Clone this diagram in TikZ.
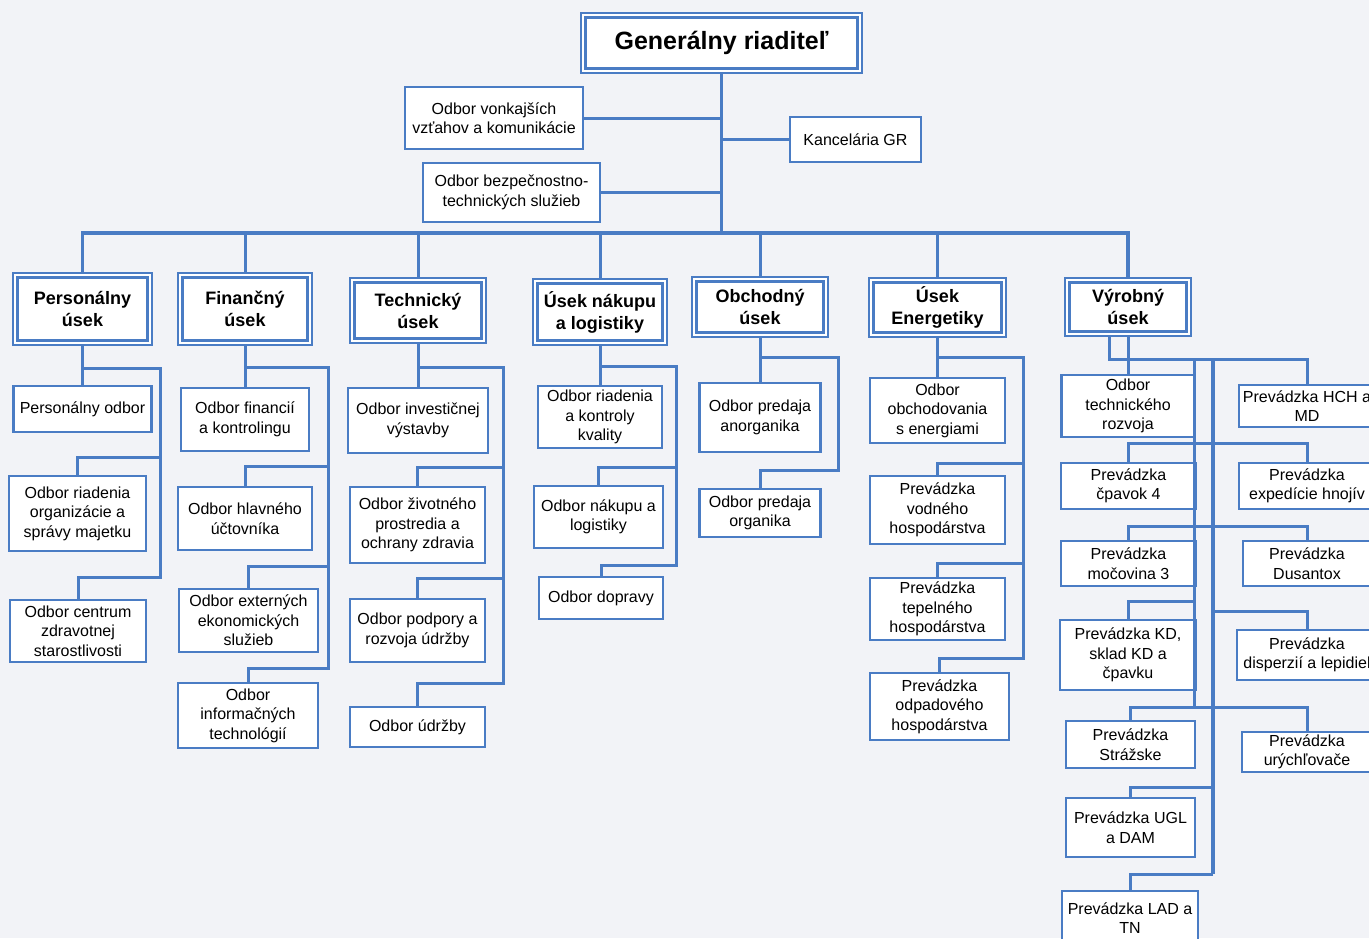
\documentclass[tikz,border=0pt]{standalone}
\usepackage{fontspec}
\setmainfont{Liberation Sans}
\definecolor{bl}{HTML}{4A7CC4}
\definecolor{bg}{HTML}{F2F3F7}
\begin{document}
\begin{tikzpicture}[x=1pt,y=-1pt,
  sz/.style 2 args={minimum width=#1pt, minimum height=#2pt},
  box/.style={draw=bl, line width=2.2pt, fill=white, inner sep=0pt, align=center, font=\fontsize{16}{19.5}\selectfont},
  dbl/.style={draw=bl, line width=1.2pt, fill=white, inner sep=0pt, align=center,
    font=\bfseries\fontsize{18}{22}\selectfont,
    path picture={\draw[bl, line width=2.6pt] ([shift={(4.5pt,-4.5pt)}]path picture bounding box.north west) rectangle ([shift={(-4.5pt,4.5pt)}]path picture bounding box.south east);}},
  conn/.style={draw=bl, line width=3pt},
  rail/.style={draw=bl, line width=3.6pt},
]
\fill[bg] (0,0) rectangle (1369,938);
\useasboundingbox (0,0) rectangle (1369,938);

% top
\node[dbl, sz={281}{60}, font=\bfseries\fontsize{25}{30}\selectfont] (gr) at (721.5,43) {Generálny riaditeľ};
\node[box, sz={131}{45}] (kan) at (855.5,139.5) {Kancelária GR};
\node[box, sz={178}{62}] (von) at (494,118) {Odbor vonkajších\\vzťahov a komunikácie};
\node[box, sz={177}{59}] (bez) at (511.5,192.5) {Odbor bezpečnostno-\\technických služieb};

% divisions
\node[dbl, sz={139}{72}] (pers) at (82.5,309) {Personálny\\úsek};
\node[dbl, sz={134}{72}] (fin) at (245,309) {Finančný\\úsek};
\node[dbl, sz={136}{65}] (tech) at (418,310.5) {Technický\\úsek};
\node[dbl, sz={134}{66}] (nak) at (600,312) {Úsek nákupu\\a logistiky};
\node[dbl, sz={136}{60}] (obch) at (760,307) {Obchodný\\úsek};
\node[dbl, sz={137}{59}] (ener) at (937.5,307.5) {Úsek\\Energetiky};
\node[dbl, sz={126}{58}] (vyr) at (1128,307) {Výrobný\\úsek};

\coordinate (bus) at (721.5,233);
\draw[rail] (gr.south) -- (bus);
\draw[rail] (pers.north) |- (bus) -| (vyr.north);
\foreach \n in {fin,tech,nak,obch,ener} {\draw[conn] (\n.north) -- (\n.north |- bus);}
\draw[conn] (von.east) -- (von.east -| gr.south);
\draw[conn] (bez.east) -- (bez.east -| gr.south);
\draw[conn] (kan.west) -- (kan.west -| gr.south);

% Personalny
\node[box, sz={138}{46}] (ppo) at (82.5,409) {Personálny odbor};
\node[box, sz={137}{75}] (por) at (77.5,513.5) {Odbor riadenia\\organizácie a\\správy majetku};
\node[box, sz={136}{62}] (pcz) at (78,631) {Odbor centrum\\zdravotnej\\starostlivosti};
\coordinate (p1) at (160,368); \coordinate (p2) at (160,457); \coordinate (p3) at (160,577);
\draw[conn] (pers.south) -- (ppo.north);
\draw[conn] (pers.south |- p1) -- (p1) -- (p3) -| (pcz.north);
\draw[conn] (p2) -| (por.north);

% Financny
\node[box, sz={128}{63}] (ffk) at (245,419.5) {Odbor financií\\a kontrolingu};
\node[box, sz={134}{63}] (fhu) at (245,518.5) {Odbor hlavného\\účtovníka};
\node[box, sz={139}{63}] (fex) at (248.5,620.5) {Odbor externých\\ekonomických\\služieb};
\node[box, sz={140}{65}] (fit) at (248,715.5) {Odbor\\informačných\\technológií};
\coordinate (f1) at (328,367); \coordinate (f2) at (328,466); \coordinate (f3) at (328,566); \coordinate (f4) at (328,668);
\draw[conn] (fin.south) -- (ffk.north);
\draw[conn] (fin.south |- f1) -- (f1) -- (f4) -| (fit.north);
\draw[conn] (f2) -| (fhu.north);
\draw[conn] (f3) -| (fex.north);

% Technicky
\node[box, sz={140}{65}] (tiv) at (418,420.5) {Odbor investičnej\\výstavby};
\node[box, sz={135}{76}] (tzp) at (417.5,525) {Odbor životného\\prostredia a\\ochrany zdravia};
\node[box, sz={135}{63}] (tpr) at (417.5,630.5) {Odbor podpory a\\rozvoja údržby};
\node[box, sz={135}{40}] (tud) at (417.5,727) {Odbor údržby};
\coordinate (t1) at (503,367); \coordinate (t2) at (503,467); \coordinate (t3) at (503,578); \coordinate (t4) at (503,683);
\draw[conn] (tech.south) -- (tiv.north);
\draw[conn] (tech.south |- t1) -- (t1) -- (t4) -| (tud.north);
\draw[conn] (t2) -| (tzp.north);
\draw[conn] (t3) -| (tpr.north);

% Nakup
\node[box, sz={124}{62}] (nrk) at (600,417) {Odbor riadenia\\a kontroly\\kvality};
\node[box, sz={129}{62}] (nnl) at (598.5,517) {Odbor nákupu a\\logistiky};
\node[box, sz={124}{42}] (ndo) at (601,598) {Odbor dopravy};
\coordinate (n1) at (676,366); \coordinate (n2) at (676,467); \coordinate (n3) at (676,565);
\draw[conn] (nak.south) -- (nrk.north);
\draw[conn] (nak.south |- n1) -- (n1) -- (n3) -| (ndo.north);
\draw[conn] (n2) -| (nnl.north);

% Obchodny
\node[box, sz={121}{69}] (oan) at (760,417.5) {Odbor predaja\\anorganika};
\node[box, sz={121}{48}] (oor) at (760,513) {Odbor predaja\\organika};
\coordinate (o1) at (838,357); \coordinate (o2) at (838,470);
\draw[conn] (obch.south) -- (oan.north);
\draw[conn] (obch.south |- o1) -- (o1) -- (o2) -| (oor.north);

% Energetiky
\node[box, sz={135}{65}] (eob) at (937.5,410.5) {Odbor\\obchodovania\\s energiami};
\node[box, sz={135}{68}] (evo) at (937.5,510) {Prevádzka\\vodného\\hospodárstva};
\node[box, sz={135}{62}] (ete) at (937.5,609) {Prevádzka\\tepelného\\hospodárstva};
\node[box, sz={139}{67}] (eod) at (939.5,706.5) {Prevádzka\\odpadového\\hospodárstva};
\coordinate (e1) at (1023,357); \coordinate (e2) at (1023,463); \coordinate (e3) at (1023,563); \coordinate (e4) at (1023,658);
\draw[conn] (ener.south) -- (eob.north);
\draw[conn] (ener.south |- e1) -- (e1) -- (e4) -| (eod.north);
\draw[conn] (e2) -| (evo.north);
\draw[conn] (e3) -| (ete.north);

% Vyrobny
\node[box, sz={133}{62}] (vtr) at (1128,406) {Odbor\\technického\\rozvoja};
\node[box, sz={135}{46}] (vcp) at (1128.5,486) {Prevádzka\\čpavok 4};
\node[box, sz={135}{45}] (vmo) at (1128.5,563.5) {Prevádzka\\močovina 3};
\node[box, sz={136}{70}] (vkd) at (1128,655) {Prevádzka KD,\\sklad KD a\\čpavku};
\node[box, sz={129}{47}] (vst) at (1130.5,744.5) {Prevádzka\\Strážske};
\node[box, sz={129}{59}] (vug) at (1130.5,827.5) {Prevádzka UGL\\a DAM};
\node[box, sz={136}{54}] (vla) at (1130,918) {Prevádzka LAD a\\TN};
\node[box, sz={136}{42}] (vhch) at (1307,406) {Prevádzka HCH a\\MD};
\node[box, sz={136}{46}] (vexp) at (1307,486) {Prevádzka\\expedície hnojív};
\node[box, sz={128}{45}] (vdus) at (1307,563.5) {Prevádzka\\Dusantox};
\node[box, sz={140}{50}] (vdis) at (1307,655) {Prevádzka\\disperzií a lepidiel};
\node[box, sz={130}{40}] (vury) at (1307,752) {Prevádzka\\urýchľovače};

\coordinate (yA) at (1109,359);
\coordinate (yC1) at (1194,359); \coordinate (yC2) at (1194,707);
\coordinate (yD1) at (1213,359); \coordinate (yD2) at (1213,874);
\draw[conn] (vyr.south) -- (vtr.north);
\draw[conn] (vyr.south -| yA) -- (yA) -| (vhch.north);
\draw[conn] (yC1) -- (yC2);
\draw[rail] (yD1) -- (yD2);
\coordinate (yb1) at (1213,443); \coordinate (yb2) at (1213,526);
\coordinate (yb3) at (1194,601); \coordinate (yb4) at (1213,611);
\coordinate (yb5) at (1213,707); \coordinate (yb6) at (1213,787);
\draw[conn] (vcp.north) |- (yb1) -| (vexp.north);
\draw[conn] (vmo.north) |- (yb2) -| (vdus.north);
\draw[conn] (yb3) -| (vkd.north);
\draw[conn] (yb4) -| (vdis.north);
\draw[conn] (vst.north) |- (yb5) -| (vury.north);
\draw[conn] (yb6) -| (vug.north);
\draw[conn] (yD2) -| (vla.north);
\end{tikzpicture}
\end{document}
